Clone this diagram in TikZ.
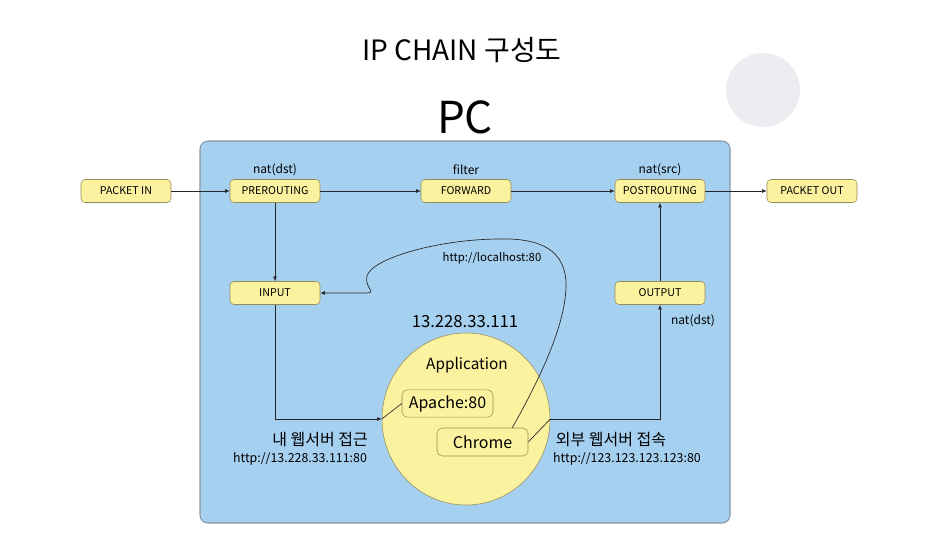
\documentclass[tikz,border=0pt]{standalone}
\usepackage{fontspec}
\setmainfont{Noto Sans CJK KR}
\usepackage{xcolor}
\usetikzlibrary{positioning,arrows.meta,shapes.geometric}

\definecolor{pcblue}{RGB}{166,208,240}
\definecolor{pcedge}{RGB}{135,150,165}
\definecolor{chainfill}{RGB}{251,242,160}
\definecolor{chainedge}{RGB}{150,140,85}
\definecolor{dotgray}{RGB}{235,237,240}

\tikzset{
  chainbox/.style={draw=chainedge, fill=chainfill, rounded corners=3pt,
    minimum width=67.5pt, minimum height=17.25pt, inner sep=0pt,
    font=\fontsize{8}{9}\selectfont},
  appbox/.style={draw=chainedge, fill=chainfill, rounded corners=4pt,
    minimum width=68.25pt, minimum height=20.5pt, inner sep=0pt, font=\fontsize{12}{14}\selectfont},
  tag/.style={font=\fontsize{9}{10}\selectfont, inner sep=1pt},
  flow/.style={draw=black!85, line width=0.5pt, -{Latex[length=3.5pt,width=3pt]}},
  wire/.style={draw=black!85, line width=0.5pt}
}

\begin{document}
\begin{tikzpicture}[x=0.75pt, y=-0.75pt]
% canvas in pixel units, y grows downward
\useasboundingbox (0,0) rectangle (952,543);
\fill[dotgray] (763,90) circle (37);
% titles
\node[font=\fontsize{21}{24}\selectfont] (title) at (462,50) {IP CHAIN 구성도};
\node[font=\fontsize{33}{36}\selectfont] (pc) at (465,117) {PC};
% the PC frame
\draw[pcedge, fill=pcblue, line width=0.8pt, rounded corners=6pt] (200,141) rectangle (730,523);
% chain boxes
\foreach \nm/\x/\y/\lab in {pin/126/191/PACKET IN, pre/275/191/PREROUTING,
  fwd/466/191/FORWARD, post/660/191/POSTROUTING, pout/812/191/PACKET OUT,
  input/275/293/INPUT, output/660/293/OUTPUT}{
  \node[chainbox] (\nm) at (\x,\y) {\lab};
}
\node[tag] (natpre) at (275,170) {nat(dst)};
\node[tag] (filt) at (466,170) {filter};
\node[tag] (natpost) at (660,170) {nat(src)};
\node[tag] (natout) at (693,321) {nat(dst)};
% application bubble
\node[font=\fontsize{12.5}{14}\selectfont] (ip) at (465,322) {13.228.33.111};
\node[ellipse, draw=chainedge, fill=chainfill, minimum width=126pt, minimum height=129pt, inner sep=0pt] (app) at (466,419) {};
\node[font=\fontsize{11.5}{14}\selectfont] (applab) at (467,365) {Application};
\node[appbox] (apache) at (447.5,403.5) {Apache:80};
\node[appbox, minimum height=21pt] (chrome) at (482.5,442) {Chrome};
% main chain
\draw[flow] (pin) -- (pre);
\draw[flow] (pre) -- (fwd);
\draw[flow] (fwd) -- (post);
\draw[flow] (post) -- (pout);
\draw[flow] (pre) -- (input);
\draw[flow] (output) -- (post);
% into and out of the host
\draw[flow] (input.south) |- (app.west);
\draw[wire] (app.west) -- (apache.west);
\draw[wire] (chrome.east) -- (app.east);
\draw[flow] (app.east) -| (output.south);
% loopback from chrome back to input
\draw[flow] ([xshift=-12pt]chrome.north east) .. controls (545,370) and (566,320) .. (566,285)
  .. controls (566,250) and (540,238) .. (500,239)
  .. controls (440,239) and (372,258) .. (367,276)
  .. controls (364,288) and (378,293) .. (366,293) -- (input.east);
\node[font=\fontsize{8.5}{10}\selectfont] (lhost) at (492,258) {http://localhost:80};
% captions
\node[font=\fontsize{12}{14}\selectfont] (mine) at (320,440) {내 웹서버 접근};
\node[font=\fontsize{9.3}{11}\selectfont] (mineurl) at (300,459) {http://13.228.33.111:80};
\node[font=\fontsize{12}{14}\selectfont] (ext) at (611,440) {외부 웹서버 접속};
\node[font=\fontsize{9.3}{11}\selectfont] (exturl) at (627,459) {http://123.123.123.123:80};
\end{tikzpicture}
\end{document}
